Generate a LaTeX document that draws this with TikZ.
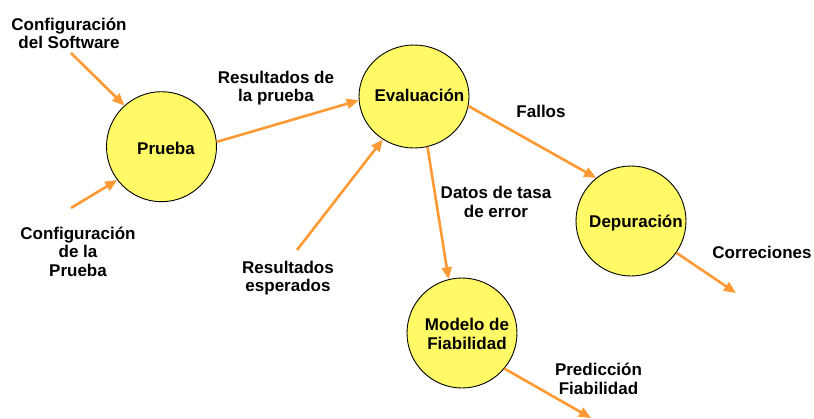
\documentclass[tikz,border=0pt]{standalone}
\usepackage{fontspec}
\setmainfont{Liberation Sans}
\usetikzlibrary{arrows.meta,shapes.geometric}
\definecolor{yel}{HTML}{FFFA66}
\definecolor{org}{HTML}{FF9933}
\begin{document}
\begin{tikzpicture}[x=1pt,y=-1pt,
  circ/.style={ellipse, draw=black, line width=0.9pt, fill=yel, minimum width=110pt, minimum height=110pt, inner sep=0pt},
  txt/.style={font=\fontsize{17}{18.5}\selectfont\bfseries, align=center, inner sep=0pt, text=black},
  arr/.style={draw=org, line width=2.6pt, -{Triangle[length=12pt,width=10pt]}}]
\useasboundingbox (0,0) rectangle (814,418);
% circles
\node[circ] (pru) at (161.5,146.7) {};
\node[circ, minimum height=103pt] (eva) at (414,96.5) {};
\node[circ] (dep) at (631,221) {};
\node[circ] (mod) at (462,333) {};
% circle texts
\node[txt] (tpru) at (166,148) {Prueba};
\node[txt] (teva) at (419.5,95) {Evaluación};
\node[txt] (tdep) at (636,223) {Depuración};
\node[txt] (tmod) at (467,334) {Modelo de\\Fiabilidad};
% labels
\node[txt] (lcs) at (69,33.5) {Configuración\\del Software};
\node[txt] (lcp) at (78,251.5) {Configuración\\de la\\Prueba};
\node[txt] (lrp) at (276,88) {Resultados de\\la prueba};
\node[txt] (lre) at (288,278) {Resultados\\esperados};
\node[txt] (lfa) at (541,111) {Fallos};
\node[txt] (ldt) at (496,202) {Datos de tasa\\de error};
\node[txt] (lco) at (762,252) {Correciones};
\node[txt] (lpf) at (598.5,379) {Predicción\\Fiabilidad};
% free ends
\coordinate (scs) at (71,53);
\coordinate (scp) at (71,208);
\coordinate (sre) at (297,250);
\coordinate (eco) at (736,293);
\coordinate (epf) at (591,418);
% arrows
\draw[arr] (scs) -- (pru.132.6);
\draw[arr] (scp) -- (pru.217);
\draw[arr] (pru.5) -- (eva.184.4);
\draw[arr] (sre) -- (eva.234);
\draw[arr] (eva.-10) -- (dep.129);
\draw[arr] (eva.285) -- (mod.104);
\draw[arr] (dep.-35) -- (eco);
\draw[arr] (mod.-40) -- (epf);
\end{tikzpicture}
\end{document}
